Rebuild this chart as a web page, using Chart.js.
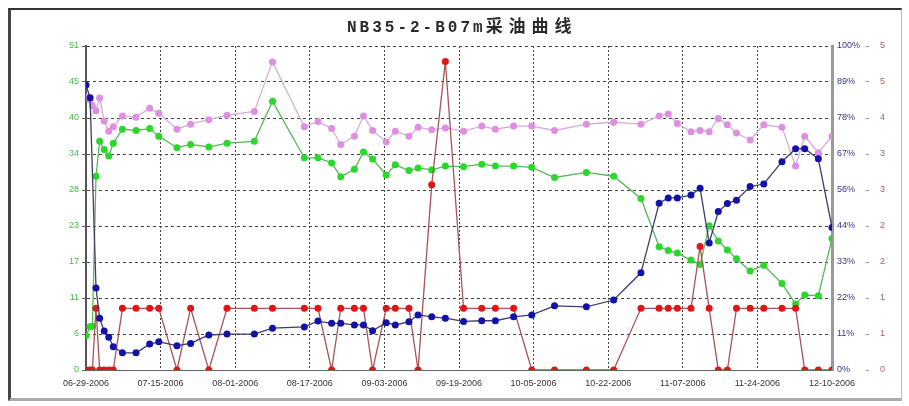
<!DOCTYPE html>
<html>
<head>
<meta charset="utf-8">
<script src="https://cdn.jsdelivr.net/npm/chart.js@4.4.0/dist/chart.umd.min.js"></script>
<style>
  html, body { margin: 0; padding: 0; background: #fff; }
  #wrap { position: relative; width: 909px; height: 406px; }
  #c { position: absolute; left: 0; top: 0; }
  #frame { position: absolute; left: 8px; top: 8px; width: 890px; height: 388px;
           border-top: 2px solid #333; border-left: 3px solid #444;
           border-right: 1px solid #bbb; border-bottom: 3px solid #aaa; pointer-events: none; }
  #title { position: absolute; left: 347px; top: 12px; color: #2a2a2a; font-weight: bold; white-space: nowrap; }
  #title .lat { font-family: "Liberation Mono", monospace; font-size: 16px; letter-spacing: 3px; }
  #title .cjk { font-family: "Noto Sans CJK SC", sans-serif; font-size: 17px; letter-spacing: 6px; }
</style>
</head>
<body>
<div id="wrap">
  <canvas id="c" width="909" height="406"></canvas>
  <div id="frame"></div>
  <div id="title"><span class="lat">NB35-2-B07m</span><span class="cjk">采油曲线</span></div>
</div>
<script>
// days after 06-29-2006
var days = [0, 0.9, 1.4, 2.2, 3, 4, 5, 6, 8, 11, 14, 16, 20, 23, 27, 31, 37, 41, 48, 51,
    54, 56, 59, 61, 63, 66, 68, 71, 73, 76, 79, 83, 87, 90, 94, 98, 103, 110, 116, 122,
    126, 128, 130, 133, 135, 137, 139, 141, 143, 146, 149, 153, 156, 158, 161, 164];

// pink, left axis
var liquid = [43.0, 42.5, 41.6, 40.8, 42.8, 39.2, 37.6, 38.3, 40.0, 39.8,
    41.2, 40.4, 37.9, 38.7, 39.4, 40.1, 40.7, 48.5, 38.3, 39.1,
    38.0, 35.5, 36.8, 40.0, 37.7, 35.9, 37.6, 36.8, 38.2, 37.8,
    38.1, 37.6, 38.4, 37.9, 38.4, 38.4, 37.7, 38.7, 39.0, 38.7,
    40.0, 40.3, 38.8, 37.5, 37.7, 37.5, 39.6, 38.6, 37.3, 36.2,
    38.6, 38.2, 32.1, 36.8, 34.2, 36.8];

// green, left axis
var oil = [5.4, 6.8, 6.9, 30.5, 36.0, 34.7, 33.7, 35.7, 37.9, 37.7,
    38.0, 36.8, 35.0, 35.5, 35.1, 35.7, 36.0, 42.3, 33.4, 33.4,
    32.6, 30.4, 31.6, 34.3, 33.2, 30.7, 32.3, 31.4, 31.8, 31.5,
    32.1, 32.0, 32.4, 32.1, 32.1, 31.9, 30.3, 31.1, 30.5, 27.0,
    19.4, 18.8, 18.4, 17.3, 16.6, 22.7, 20.3, 18.9, 17.5, 15.6,
    16.5, 13.6, 10.4, 11.8, 11.7, 20.7];

// blue, percent axis
var water = [88.0, 84.0, null, 25.3, 16.0, 12.0, 10.1, 7.2, 5.3, 5.3,
    8.0, 8.7, 7.5, 8.2, 10.8, 11.1, 11.1, 12.9, 13.3, 15.1,
    14.4, 14.4, 13.9, 13.9, 12.1, 14.6, 13.9, 14.9, 17.0, 16.4,
    16.0, 15.0, 15.2, 15.2, 16.4, 17.0, 19.8, 19.5, 21.6, 30.0,
    51.5, 53.1, 53.1, 54.0, 56.1, 39.2, 48.9, 51.4, 52.4, 56.6,
    57.4, 64.3, 68.3, 68.3, 65.2, 44.0];

// red, right 0-5 axis
var other = [0, 0, 0, 1, 0, 0, 0, 0, 1, 1,
    1, 1, 0, 1, 0, 1, 1, 1, 1, 1,
    0, 1, 1, 1, 0, 1, 1, 1, 0, 3,
    5, 1, 1, 1, 1, 0, 0, 0, 0, 1,
    1, 1, 1, 1, 2, 1, 0, 0, 1, 1,
    1, 1, 1, 0, 0, 0];

var xLabels = ["06-29-2006", "07-15-2006", "08-01-2006", "08-17-2006", "09-03-2006", "09-19-2006",
    "10-05-2006", "10-22-2006", "11-07-2006", "11-24-2006", "12-10-2006"];
var leftLabels = ["0", "6", "11", "17", "23", "28", "34", "40", "45", "51"];
var pctLabels = ["0%", "11%", "22%", "33%", "44%", "56%", "67%", "78%", "89%", "100%"];
var numLabels = ["0", "1", "1", "2", "2", "3", "3", "4", "5", "5"];

function pts(arr) {
    return days.map(function (d, i) { return { x: d, y: arr[i] }; });
}
function evenTicks(max, n) {
    return function (s) {
        var t = [];
        for (var i = 0; i < n; i++) t.push({ value: i * max / (n - 1) });
        s.ticks = t;
    };
}
function line(arr, axis, lineColor, dotColor) {
    return {
        data: pts(arr), yAxisID: axis, borderColor: lineColor, borderWidth: 1.3,
        pointRadius: 3.5, pointBorderWidth: 0, pointBackgroundColor: dotColor,
        tension: 0, spanGaps: true
    };
}

var tickFont = { family: "Liberation Sans", size: 9 };

var ctx = document.getElementById("c");
var myChart = new Chart(ctx, {
    type: "line",
    data: {
        datasets: [
            line(water, "pct", "#3c3c6c", "#1212a8"),
            line(other, "num", "#a85454", "#dd1616"),
            line(oil, "y", "#58b858", "#2ad82a"),
            line(liquid, "y", "#d8aed8", "#e08ee0"),
        ],
    },
    options: {
        responsive: false,
        animation: false,
        layout: { padding: { left: 50, right: 21, top: 46, bottom: 14 } },
        plugins: { legend: { display: false }, tooltip: { enabled: false }, title: { display: false } },
        scales: {
            x: {
                type: "linear", min: 0, max: 164,
                afterBuildTicks: evenTicks(164, 11),
                afterFit: function (s) { s.height = 22; },
                ticks: { autoSkip: false, maxRotation: 0, color: "#333", font: tickFont, padding: 8,
                    callback: function (v, i) { return xLabels[i]; } },
                grid: { color: "#444", drawTicks: false },
                border: { color: "#666", width: 1, dash: [2, 2] },
            },
            y: {
                position: "left", min: 0, max: 51,
                afterBuildTicks: evenTicks(51, 10),
                afterFit: function (s) { s.width = 36; },
                ticks: { color: "#44bb44", font: tickFont, padding: 3,
                    callback: function (v, i) { return leftLabels[i]; } },
                grid: { color: "#444", tickLength: 4, tickColor: "#666" },
                border: { color: "#555", width: 2, dash: [3, 3] },
            },
            pct: {
                position: "right", min: 0, max: 100, weight: 0,
                afterBuildTicks: evenTicks(100, 10),
                afterFit: function (s) { s.width = 34; },
                ticks: { color: "#34348c", font: tickFont, padding: 5,
                    callback: function (v, i) { return pctLabels[i]; } },
                grid: { drawOnChartArea: false, drawTicks: false },
                border: { color: "#999", width: 3 },
            },
            num: {
                position: "right", min: 0, max: 5.25, weight: 1,
                afterBuildTicks: evenTicks(5.25, 10),
                afterFit: function (s) { s.width = 22; },
                ticks: { color: "#b06060", font: tickFont, padding: 11,
                    callback: function (v, i) { return numLabels[i]; } },
                grid: { drawOnChartArea: false, tickLength: 3, tickColor: "#999" },
                border: { display: false },
            },
        },
    },
});
</script>
</body>
</html>
